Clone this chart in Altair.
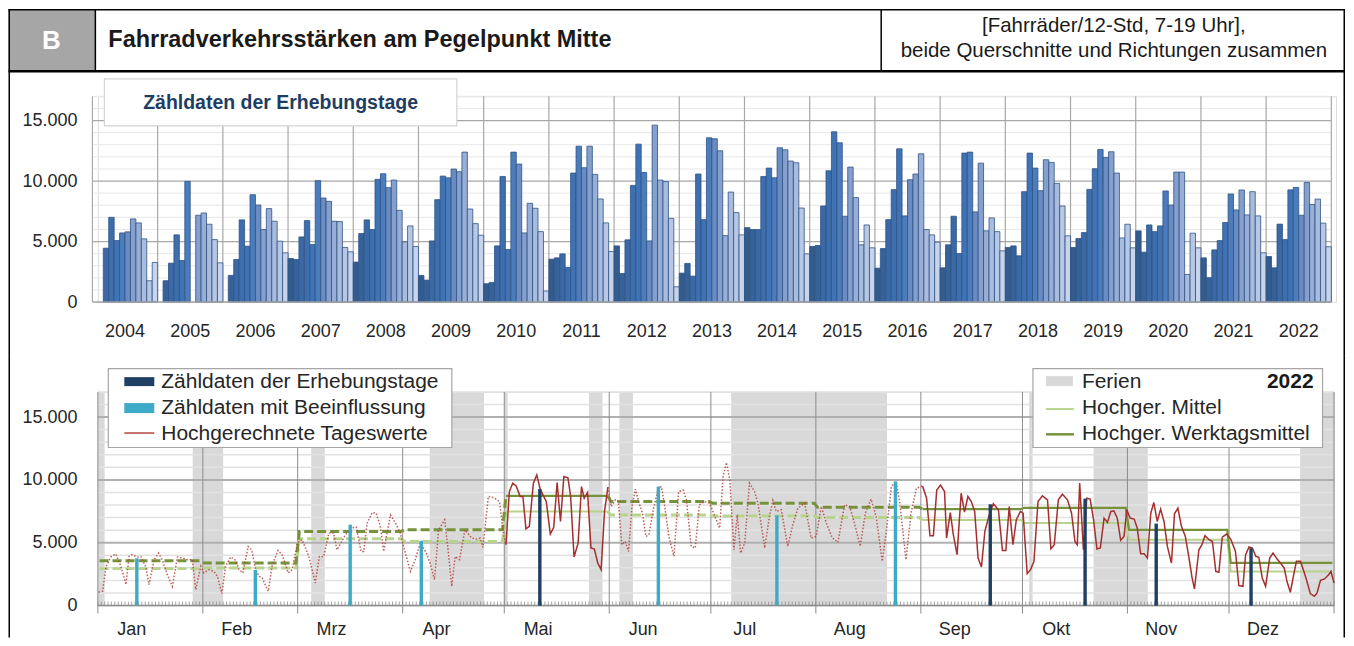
import altair as alt
import pandas as pd

FONT = "Liberation Sans"
TXT = "#262626"

# ---------------- top chart: Zähldaten der Erhebungstage, one value per month (Jan..Dec)
c2004 = [None, None, 4450, 7000, 5080, 5710, 5800, 6870, 6540, 5220, 1760, 3270]
c2005 = [None, 1760, 3210, 5550, 3430, 9970, None, 7170, 7360, 6430, 5160, 3240]
c2006 = [None, 2200, 3520, 6790, 4620, 8870, 8020, 5990, 7720, 6680, 5030, 4070]
c2007 = [3600, 3520, 5380, 6730, 4750, 10030, 8600, 8320, 6680, 6650, 4510, 4150]
c2008 = [3300, 5660, 6790, 5990, 10140, 10600, 9450, 10080, 7580, 4970, 6290, 4590]
c2009 = [2200, 1810, 5050, 8460, 10410, 10270, 10990, 10770, 12390, 7690, 6480, 5520]
c2010 = [1510, 1620, 4640, 10380, 4340, 12390, 11400, 5710, 8160, 7750, 5820, 910]
c2011 = [3540, 3650, 3980, 2860, 10660, 12880, 11100, 12880, 10550, 8520, 6540, 4180]
c2012 = [4640, 2360, 5140, 9640, 13050, 10710, 5050, 14620, 10080, 9950, 6920, 1260]
c2013 = [2390, 3190, 2140, 10580, 6810, 13570, 13490, 12500, 5490, 9090, 7390, 5550]
c2014 = [6150, 5990, 5990, 10380, 11070, 10270, 12750, 12580, 11650, 11510, 7770, 3980]
c2015 = [4590, 4670, 7940, 10850, 14070, 13160, 7090, 11150, 8630, 4730, 6370, 4480]
c2016 = [2800, 4420, 6810, 9290, 12660, 7120, 10110, 10580, 12250, 5990, 5550, 4950]
c2017 = [2830, 4730, 7090, 4010, 12310, 12390, 7450, 11480, 5880, 6950, 5820, 4230]
c2018 = [4510, 4640, 3820, 9120, 12310, 11070, 9200, 11760, 11540, 9810, 7940, 5470]
c2019 = [4510, 5250, 5740, 9310, 11020, 12610, 11950, 12420, 10660, 5300, 6430, 4480]
c2020 = [5880, 4120, 6370, 5820, 6290, 9180, 8020, 10740, 10740, 2280, 5690, 4480]
c2021 = [3650, 2010, 4310, 5080, 6570, 8930, 7610, 9260, 7200, 9120, 7120, 4070]
c2022 = [3760, 2830, 6440, 5160, 9270, 9470, 7170, 9880, 8060, 8510, 6520, 4570]
years = list(range(2004, 2023))
year_counts = [c2004, c2005, c2006, c2007, c2008, c2009, c2010, c2011, c2012, c2013,
               c2014, c2015, c2016, c2017, c2018, c2019, c2020, c2021, c2022]
month_colors = ["#335b8b", "#36629a", "#3a69a5", "#3d6ead", "#4073b5", "#4b7dbd",
                "#6a8cc3", "#86a0ce", "#98aed6", "#a9bcde", "#b8c8e4", "#c8d4eb"]

# ---------------- bottom chart: 2022
month_names = ["Jan", "Feb", "Mrz", "Apr", "Mai", "Jun", "Jul", "Aug", "Sep", "Okt", "Nov", "Dez"]
survey_dates = ["2022-01-12", "2022-02-16", "2022-03-16", "2022-04-06", "2022-05-11", "2022-06-15",
                "2022-07-20", "2022-08-24", "2022-09-21", "2022-10-19", "2022-11-09", "2022-12-07"]
survey_type = ["B", "B", "B", "B", "E", "B", "B", "B", "E", "E", "E", "E"]  # B = mit Beeinflussung
ferien_start = ["2022-01-01", "2022-01-29", "2022-03-05", "2022-04-09", "2022-05-01", "2022-05-26",
                "2022-06-04", "2022-07-07", "2022-10-03", "2022-10-22", "2022-12-22"]
ferien_end = ["2022-01-03", "2022-02-07", "2022-03-09", "2022-04-25", "2022-05-02", "2022-05-30",
              "2022-06-08", "2022-08-22", "2022-10-04", "2022-11-07", "2023-01-01"]
mittel = [2940, 2990, 5320, 5100, 7490, 7200, 7120, 7010, 6800, 6560, 5240, 2720]
werktag = [3570, 3390, 5900, 6030, 8730, 8280, 8150, 7830, 7670, 7780, 6030, 3390]

# hochgerechnete Tageswerte (day of year, value)
red_day = [0.2, 1.4, 2.4, 3.8, 5.3, 6.8, 8.3, 9.2, 10.0, 11.7, 12.7, 14.1, 15.1, 16.6, 17.9, 19.0, 20.5, 22.0,
           23.5, 25.0, 26.4, 27.9, 28.9, 30.4, 31.3, 32.8, 34.3, 35.3, 36.6, 37.7, 39.2, 40.5, 41.7, 42.8,
           44.4, 45.4, 46.6, 47.6, 48.5, 50.3, 51.5, 53.2, 54.4, 56.2, 57.4, 58.9, 60.3, 62.3, 64.2, 65.4,
           66.7, 68.2, 69.6, 70.6, 71.8, 73.1, 74.6, 76.3, 77.7, 78.5, 79.5, 81.0, 82.2, 83.4, 84.4, 86.4,
           87.9, 89.3, 90.8, 92.3, 93.7, 95.2, 97.0, 98.1, 99.4, 100.6, 102.4, 103.4, 104.5, 105.5, 106.8,
           108.4, 110.4, 111.9, 112.9, 113.7, 115.3, 116.8, 118.6, 119.8, 120.5,
           121.5, 122.5, 123.5, 124.7, 125.5, 126.4, 127.4, 128.6, 129.6, 130.6, 132.4, 133.6, 134.6, 135.6,
           136.6, 137.6, 138.8, 139.6, 140.6, 141.8, 142.8, 143.6, 144.6, 145.6, 146.6, 147.6, 148.6, 149.6,
           150.6,
           151.6, 152.8, 153.7, 154.7, 155.7, 156.7, 157.7, 158.7, 159.8, 160.8, 161.8, 162.7, 164.0, 165.5,
           166.4, 167.4, 168.6, 170.1, 171.5, 172.8, 173.8, 175.2, 176.4, 177.6, 179.1, 180.6, 182.6, 183.6,
           184.6, 185.6, 186.6, 187.8, 188.8, 189.8, 191.0, 192.4, 193.9, 194.9, 196.9, 198.3, 199.3, 200.3,
           201.8, 203.7, 205.2, 206.7, 208.7, 210.6, 212.1, 213.6, 215.1, 216.8, 218.5, 220.5, 222.0, 223.4,
           225.1, 226.6, 228.3, 229.8, 231.6, 232.8, 234.3, 235.7, 236.8, 238.6, 240.1, 241.7, 243.5,
           244.7, 245.7, 246.7, 247.7, 248.8, 250.0, 250.6, 251.7, 252.6, 253.7, 254.9, 255.9, 256.9, 257.9,
           258.9, 259.9, 260.9, 261.9, 263.2, 264.4, 265.9, 267.1, 268.1, 269.1, 270.2, 271.2, 272.4, 273.2,
           274.4, 275.4, 276.4, 277.6, 278.9, 280.4, 281.4, 282.4, 283.6, 284.8, 286.3, 287.5, 288.5, 289.2,
           289.9, 291.0, 292.0, 293.0, 294.0, 295.0, 296.0, 297.1, 298.1, 299.1, 300.0, 301.0, 302.0, 303.0,
           303.8, 304.8, 306.0, 306.9, 307.9, 308.9, 309.9, 310.9, 311.8, 312.8, 313.8, 314.8, 315.8, 317.0,
           317.9, 318.9, 319.9, 321.1, 322.1, 323.1, 323.8, 325.1, 326.0, 326.9, 328.1, 329.1, 330.1, 331.0,
           332.0, 333.3, 334.5, 335.9, 336.9, 338.1, 338.9, 339.9, 340.9, 341.9, 342.8, 343.8, 344.8, 346.0,
           347.0, 348.2, 349.4, 350.3, 351.1, 352.1, 353.1, 353.9, 355.1, 356.1, 357.0, 358.0, 359.2, 360.0,
           361.0, 362.2, 363.4, 364.1, 365.0]
red_val = [1060, 1140, 3100, 3860, 4100, 3120, 1670, 3900, 4050, 3860, 3900, 3120, 1670, 3650, 4180, 3650, 2460, 1530,
           3860, 3780, 3650, 3650, 1270, 3120, 2600, 2860, 2720, 2330, 950, 3120, 3860, 3650, 2860, 2600,
           4700, 4440, 2860, 2330, 2200, 1140, 3250, 4390, 4050, 2600, 2860, 4970, 5240, 3900, 1800, 3900,
           3900, 5770, 5770, 4440, 5000, 5630, 6160, 6240, 4310, 4310, 6560, 7400, 7350, 6300, 4310, 7220,
           6560, 5770, 4180, 2720, 3650, 4970, 4180, 3390, 2060, 6030, 6830, 4440, 1530, 3900, 3650,
           6030, 5370, 5290, 5370, 4630, 8680, 8600, 8280, 5630, 4840,
           9070, 9740, 9520, 8680, 8680, 6110, 6300, 9740, 10400, 9260, 8280, 5690, 6220, 9790,
           6690, 10260, 10160, 8680, 3860, 4970, 9470, 8540, 9000, 4580, 4500, 3390, 2860, 7490,
           9420,
           7880, 8410, 8280, 4840, 5100, 4310, 7880, 9260, 8150, 7350, 5500, 5630, 7620, 9340,
           9470, 7880, 5500, 3920, 9070, 9200, 8410, 4710, 4580, 8020, 8280, 8150, 6830, 6160,
           10260, 11380, 10000, 4440, 7220, 4180, 4970, 9740, 9070, 8150, 4580, 7090, 8360, 7490,
           7620, 4710, 6430, 7750, 8150, 5370, 5500, 7880, 6560, 5400, 5030, 8020, 7880, 6560,
           4710, 7350, 8470, 7090, 3520, 5900, 9470, 9870, 8150, 3650, 7350, 9340, 9520,
           8540, 5560, 5560, 9200, 9580, 9070, 5370, 7400, 5630, 4050, 8940, 7430, 8680, 8280,
           7490, 3780, 3070, 5900, 7220, 8100, 7620, 4390, 4390, 7880, 4840, 6830, 7490, 7350,
           2540, 2860, 3520, 8280, 8730, 8410, 4520, 4840, 8410, 8860, 8410, 7350, 5100, 4840,
           9740, 4440, 8540, 8470, 6830, 4500, 4580, 6960, 6610, 7490, 7540, 6960, 5190, 5500,
           7620, 6960, 6880, 6160, 4130, 4130, 3780, 7350, 8200, 6690, 7670, 6690, 4710, 3390,
           7300, 7750, 6350, 5500, 3920, 2200, 1320, 4440, 4840, 5560, 5240, 5100, 2720, 2650,
           5450, 5690, 5290, 4310, 1590, 1530, 4050, 4660, 4580, 3920, 3840, 2200, 1530, 3780,
           4180, 3700, 3310, 2990, 1930, 1060, 2460, 3520, 3520, 2720, 1930, 950, 740, 1000,
           2010, 2120, 2460, 2720, 1800]

# ================= derived tables =================
bar_rows = []
for yi, vals in enumerate(year_counts):
    for m, v in enumerate(vals):
        if v is not None:
            s = yi * 12 + m
            bar_rows.append({"s": s, "s2": s + 1, "v": v, "z": 0, "m": m + 1})
bars_df = pd.DataFrame(bar_rows)

jan1 = pd.Timestamp("2022-01-01")
def doy(d):
    return (pd.Timestamp(d) - jan1).days

m_start = [doy(f"2022-{m:02d}-01") for m in range(1, 13)]
m_end = m_start[1:] + [365]

surv_df = pd.DataFrame({"d": [doy(d) + 0.5 for d in survey_dates], "v": c2022,
                        "t": survey_type, "z": 0})
fer_df = pd.DataFrame({"a": [doy(d) for d in ferien_start], "b": [doy(d) for d in ferien_end]})

def split(days, vals, parts):
    rows = []
    for seg, (lo, hi, style) in enumerate(parts):
        for d, v in zip(days, vals):
            if lo <= d <= hi:
                rows.append({"d": d, "v": v, "seg": seg, "style": style})
    return pd.DataFrame(rows)

red_df = split(red_day, red_val, [(0, 120.5, "dot"), (120.5, 150.6, "solid"),
                                  (150.6, 243.5, "dot"), (243.5, 366, "solid")])
g_days, g_m, g_w = [], [], []
for a, b, vm, vw in zip(m_start, m_end, mittel, werktag):
    g_days += [a + 0.5, b - 0.5]
    g_m += [vm, vm]
    g_w += [vw, vw]
g_parts = [(0, 120.5, "dash"), (120.5, 150.5, "solid"), (150.5, 243.5, "dash"), (243.5, 366, "solid")]
gm_df = split(g_days, g_m, g_parts)
gw_df = split(g_days, g_w, g_parts)

one = pd.DataFrame({"k": [0]})

def box(x1, x2, y1, y2, fill, stroke=None, sw=1.0):
    kw = dict(fill=fill)
    if stroke:
        kw.update(stroke=stroke, strokeWidth=sw)
    return alt.Chart(one).mark_rect(**kw).encode(
        x=alt.value(x1), x2=alt.value(x2), y=alt.value(y1), y2=alt.value(y2))

def vline(x, y1, y2, color="black", w=1.5):
    return box(x, x + w, y1, y2, color)

def hline(y, x1, x2, color="black", w=1.5):
    return box(x1, x2, y, y + w, color)

def hrule(y, x1, x2, color="black", w=1.5):
    return alt.Chart(one).mark_rule(color=color, strokeWidth=w).encode(
        y=alt.value(y), x=alt.value(x1), x2=alt.value(x2))

def label(x, y, text, size, color=TXT, bold=False, align="left"):
    return alt.Chart(one).mark_text(text=text, fontSize=size, font=FONT, color=color,
                                    fontWeight="bold" if bold else "normal",
                                    align=align, baseline="middle").encode(
        x=alt.value(x), y=alt.value(y))

Y_AXIS = alt.Axis(values=[0, 5000, 10000, 15000],
                  labelExpr="replace(format(datum.value, ','), ',', '.')",
                  domain=False, ticks=False, tickSize=0, grid=False, labelPadding=21,
                  labelFontSize=18, labelColor=TXT, labelFont=FONT, title=None)

# frame (relative to the plot origin)
X_L, X_R = -89.5, 1247.5
Y_T = -87.4

# ================= TOP CHART =================
TW, TH = 1240, 206
XS_T = alt.Scale(domain=[1.0, 228.86], nice=False, zero=False)
YS_T = alt.Scale(domain=[0, 17000], nice=False, zero=False)

gmin_t = pd.DataFrame({"v": [v for v in range(1000, 17001, 1000) if v % 5000], "a": 0, "b": 228})
gmaj_t = pd.DataFrame({"v": [5000, 10000, 15000], "a": 0, "b": 228})
ylines = pd.DataFrame({"s": list(range(0, 229, 12)), "lo": 0, "hi": 17000})
base_t = pd.DataFrame({"v": [0], "a": [0], "b": [228]})
ylab = pd.DataFrame({"s": [12 * i + 6 for i in range(len(years))], "t": [str(y) for y in years]})

def tx(f):
    return alt.X(f, scale=XS_T, axis=None)

def ty(f):
    return alt.Y(f, scale=YS_T, axis=Y_AXIS)

t_layers = [
    alt.Chart(gmin_t).mark_rule(color="#e8e8e8", strokeWidth=1).encode(x=tx("a:Q"), x2="b:Q", y=ty("v:Q")),
    alt.Chart(gmaj_t).mark_rule(color="#a8a8a8", strokeWidth=1.2).encode(x=tx("a:Q"), x2="b:Q", y=ty("v:Q")),
    alt.Chart(ylines).mark_rule(color="#a8a8a8", strokeWidth=1.2).encode(x=tx("s:Q"), y=ty("lo:Q"), y2="hi:Q"),
    alt.Chart(bars_df).mark_rect(stroke="#2e5385", strokeWidth=0.8).encode(
        x=tx("s:Q"), x2="s2:Q", y=ty("v:Q"), y2="z:Q",
        color=alt.Color("m:O", scale=alt.Scale(domain=list(range(1, 13)), range=month_colors), legend=None)),
    alt.Chart(base_t).mark_rule(color="#a0a0a0", strokeWidth=1.5).encode(x=tx("a:Q"), x2="b:Q", y=ty("v:Q")),
    alt.Chart(ylab).mark_text(fontSize=18, font=FONT, color=TXT, baseline="alphabetic").encode(
        x=tx("s:Q"), y=alt.value(241.2), text="t:N"),
    box(6.5, 359.5, -17.4, 29.6, "white", "#d4d4d4", 1.2),
    label(183, 6.3, "Zähldaten der Erhebungstage", 19.5, color="#1f3d63", bold=True, align="center"),
    box(X_L, -2.5, Y_T, -25.4, "#a6a6a6"),
    label(-46.5, -55.6, "B", 26, color="white", bold=True, align="center"),
    label(10.5, -56.0, "Fahrradverkehrsstärken am Pegelpunkt Mitte", 23.5, color="#1a1a1a", bold=True),
    label(1017.5, -70.0, "[Fahrräder/12-Std, 7-19 Uhr],", 20.5, color="#1a1a1a", align="center"),
    label(1017.5, -45.0, "beide Querschnitte und Richtungen zusammen", 20.5, color="#1a1a1a", align="center"),
    hline(Y_T, X_L, X_R + 1.5),
    hline(-26.4, X_L, X_R + 1.5, w=2.4),
    vline(-3.25, Y_T, -25.4),
    vline(783.75, Y_T, -25.4),
    vline(X_L, Y_T, 259.6),
    vline(X_R, Y_T, 259.6),
]
top = alt.layer(*t_layers).properties(width=TW, height=TH)

# ================= BOTTOM CHART =================
BW, BH = 1238, 214
XS_B = alt.Scale(domain=[0, 365], nice=False, zero=False)
YS_B = alt.Scale(domain=[0, 17000], nice=False, zero=False)

def bx(f):
    return alt.X(f, scale=XS_B, axis=None)

def by(f):
    return alt.Y(f, scale=YS_B, axis=Y_AXIS)

gmin_b = pd.DataFrame({"v": [v for v in range(1000, 17001, 1000) if v % 5000], "a": 0, "b": 365})
gmaj_b = pd.DataFrame({"v": [5000, 10000, 15000], "a": 0, "b": 365})
mlines = pd.DataFrame({"d": m_start + [365]})
dticks = pd.DataFrame({"d": list(range(0, 366))})
base_b = pd.DataFrame({"v": [0], "a": [0], "b": [365]})
mlab = pd.DataFrame({"d": [a + 10 for a in m_start], "t": month_names})

C_WD, C_M = "#76933c", "#b7d38c"
C_RED = "#a3302e"

def line(df, style, color, width, dash=None, opacity=1.0):
    kw = dict(color=color, strokeWidth=width, opacity=opacity)
    if dash:
        kw["strokeDash"] = dash
    return alt.Chart(df[df["style"] == style]).mark_line(**kw).encode(
        x=bx("d:Q"), y=by("v:Q"), detail="seg:N")

LB = -23.3
LF = 21
b_layers = [
    alt.Chart(fer_df).mark_rect(color="#d9d9d9").encode(x=bx("a:Q"), x2="b:Q", y=alt.value(0), y2=alt.value(BH)),
    alt.Chart(gmin_b).mark_rule(color="#e2e2e2", strokeWidth=1.5).encode(x=bx("a:Q"), x2="b:Q", y=by("v:Q")),
    alt.Chart(gmaj_b).mark_rule(color="#b0b0b0", strokeWidth=2).encode(x=bx("a:Q"), x2="b:Q", y=by("v:Q")),
    alt.Chart(mlines).mark_rule(color="#8c8c8c", strokeWidth=1).encode(x=bx("d:Q"), y=alt.value(0), y2=alt.value(BH)),
    alt.Chart(dticks).mark_rule(color="#8c8c8c", strokeWidth=0.8).encode(x=bx("d:Q"), y=alt.value(BH - 4), y2=alt.value(BH)),
    alt.Chart(mlines).mark_rule(color="#8c8c8c", strokeWidth=1).encode(x=bx("d:Q"), y=alt.value(BH), y2=alt.value(BH + 8)),
    alt.Chart(base_b).mark_rule(color="#8c8c8c", strokeWidth=1.5).encode(x=bx("a:Q"), x2="b:Q", y=by("v:Q")),
    line(gm_df, "dash", C_M, 3, [9, 4]),
    line(gw_df, "dash", C_WD, 3, [9, 4]),
    line(gm_df, "solid", C_M, 2),
    line(gw_df, "solid", C_WD, 2.2),
    line(red_df, "dot", "#b5433f", 1.5, [1.5, 1.8], 0.85),
    line(red_df, "solid", C_RED, 1.5),
    alt.Chart(surv_df).mark_rule(strokeWidth=3.4).encode(
        x=bx("d:Q"), y=by("v:Q"), y2="z:Q",
        color=alt.Color("t:N", scale=alt.Scale(domain=["E", "B"], range=["#1f3f63", "#3eaac8"]), legend=None)),
    alt.Chart(mlab).mark_text(fontSize=18, font=FONT, color=TXT, baseline="alphabetic", align="center").encode(
        x=bx("d:Q"), y=alt.value(243.2), text="t:N"),
    box(10.5, 354.5, LB, 55.7, "white", "#a6a6a6", 1.2),
    box(26.5, 56.5, -14.8, -5.8, "#1f3f63"),
    box(26.5, 56.5, 11.2, 21.2, "#3eaac8"),
    hrule(41.2, 26.5, 56.5, color="#b5433f", w=1.5),
    label(63.5, -10.3, "Zähldaten der Erhebungstage", LF),
    label(63.5, 15.7, "Zähldaten mit Beeinflussung", LF),
    label(63.5, 41.7, "Hochgerechnete Tageswerte", LF),
    box(936.5, 1226.5, LB, 55.7, "white", "#a6a6a6", 1.2),
    box(949.5, 976.5, -15.8, -5.8, "#d9d9d9"),
    hrule(17.2, 949.5, 977.5, color=C_M, w=2),
    hrule(42.5, 949.5, 977.5, color=C_WD, w=2.5),
    label(985.5, -10.3, "Ferien", LF),
    label(1217.5, -10.3, "2022", LF, color="#1a1a1a", bold=True, align="right"),
    label(985.5, 15.7, "Hochger. Mittel", LF),
    label(985.5, 41.7, "Hochger. Werktagsmittel", LF),
    vline(X_L, -36.8, 246),
    vline(X_R, -36.8, 246),
]
bottom = alt.layer(*b_layers).properties(width=BW, height=BH)

chart = alt.vconcat(top, bottom, spacing=-3).resolve_scale(color="independent").properties(
    padding=0, background="white"
).configure_view(strokeWidth=0).configure(font=FONT)

chart.save("out.html", embed_options={"renderer": "svg", "actions": False})
